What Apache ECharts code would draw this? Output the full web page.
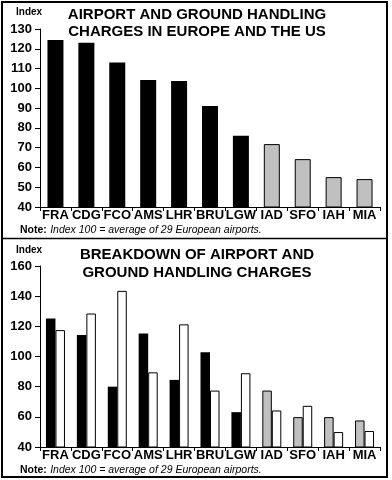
<!DOCTYPE html>
<html>
<head>
<meta charset="utf-8">
<script src="https://cdn.jsdelivr.net/npm/echarts@6/dist/echarts.min.js"></script>
<style>
html,body{margin:0;padding:0;background:#fff;}
#chart{width:392px;height:480px;}
</style>
</head>
<body>
<div id="chart"></div>
<script>
var categories = ['FRA','CDG','FCO','AMS','LHR','BRU','LGW','IAD','SFO','IAH','MIA'];
var region = ['EU','EU','EU','EU','EU','EU','EU','US','US','US','US'];
var totalIndex = [124.4,123.1,113,104.2,103.7,91.1,76,71.8,64.2,55.1,54.1];
var airportIndex = [125.2,114.2,80,115.3,84.5,102.8,63.1,77.4,59.8,59.8,57.6];
var handlingIndex = [117.5,128.5,143.5,89.5,121.3,77.4,88.9,64.2,67.3,49.9,50.6];
var topTicks = {min:40, max:130, interval:10};
var bottomTicks = {min:40, max:160, interval:20};

var FONT = 'Arial, "Liberation Sans", sans-serif';

function filled(values){
  return values.map(function(v,i){
    var us = region[i] === 'US';
    return {value:v, itemStyle:{color: us ? '#c0c0c0' : '#000', borderColor:'#000', borderWidth: us ? 1 : 0}};
  });
}

var chart = echarts.init(document.getElementById('chart'), null, {renderer:'canvas'});

function yAxis(idx, t){
  return {
    type:'value', gridIndex:idx, min:t.min, max:t.max, interval:t.interval,
    axisLine:{show:true, lineStyle:{color:'#000', width:1}},
    axisTick:{show:true, length:5, lineStyle:{color:'#000'}},
    axisLabel:{color:'#000', fontSize:13, fontWeight:'bold', fontFamily:FONT, margin:8},
    splitLine:{show:false}
  };
}
function xAxis(idx){
  return {
    type:'category', gridIndex:idx, data:categories,
    axisLine:{show:true, lineStyle:{color:'#000', width:1}},
    axisTick:{show:true, length:4, lineStyle:{color:'#000'}},
    axisLabel:{color:'#000', fontSize:13, fontWeight:'bold', fontFamily:FONT, margin:2, interval:0},
    splitLine:{show:false}
  };
}
var noteRich = {
  b:{fontWeight:'bold', fontSize:10.5, fontFamily:FONT, color:'#000'},
  i:{fontStyle:'italic', fontSize:10.5, fontFamily:FONT, color:'#000'}
};

var option = {
  animation:false,
  backgroundColor:'#fff',
  grid:[
    {left:40, right:12, top:29, height:178},
    {left:40, right:12, top:266, height:181}
  ],
  xAxis:[xAxis(0), xAxis(1)],
  yAxis:[yAxis(0, topTicks), yAxis(1, bottomTicks)],
  series:[
    {type:'bar', xAxisIndex:0, yAxisIndex:0, barWidth:16, data:filled(totalIndex)},
    {type:'bar', xAxisIndex:1, yAxisIndex:1, barWidth:9.5, barGap:'0%', data:filled(airportIndex)},
    {type:'bar', xAxisIndex:1, yAxisIndex:1, barWidth:9.5, barGap:'0%', data:handlingIndex,
     itemStyle:{color:'#fff', borderColor:'#000', borderWidth:1}}
  ],
  graphic:[
    {type:'rect', shape:{x:2, y:2, width:385, height:475}, style:{fill:'none', stroke:'#000', lineWidth:2}, z:100},
    {type:'line', shape:{x1:2, y1:238.5, x2:387, y2:238.5}, style:{stroke:'#000', lineWidth:1.5}, z:100},
    {type:'text', left:16, top:7, style:{text:'Index', fill:'#000', font:'bold 10px '+FONT}},
    {type:'text', left:16, top:245, style:{text:'Index', fill:'#000', font:'bold 10px '+FONT}},
    {type:'text', x:197, y:6.5, style:{text:'AIRPORT AND GROUND HANDLING\nCHARGES IN EUROPE AND THE US', fill:'#000', font:'bold 15px '+FONT, textAlign:'center', textVerticalAlign:'top', lineHeight:17}},
    {type:'text', x:197, y:246, style:{text:'BREAKDOWN OF AIRPORT AND\nGROUND HANDLING CHARGES', fill:'#000', font:'bold 15px '+FONT, textAlign:'center', textVerticalAlign:'top', lineHeight:18}},
    {type:'text', x:20, y:230, style:{text:'{b|Note:} {i|Index 100 = average of 29 European airports.}', textVerticalAlign:'middle', rich:noteRich}},
    {type:'text', x:20, y:470, style:{text:'{b|Note:} {i|Index 100 = average of 29 European airports.}', textVerticalAlign:'middle', rich:noteRich}}
  ]
};
chart.setOption(option);
</script>
</body>
</html>
